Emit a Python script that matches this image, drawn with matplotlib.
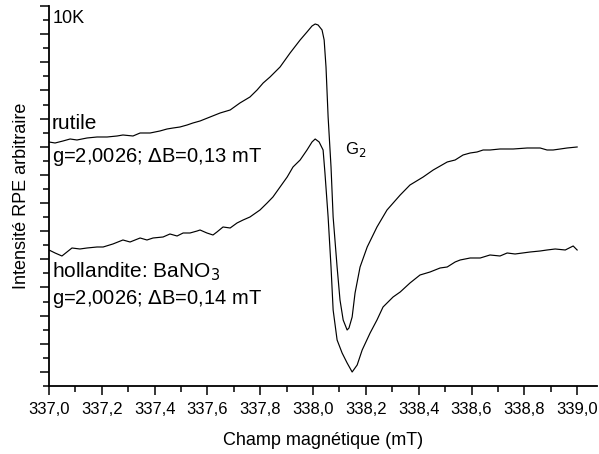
import numpy as np
import matplotlib
matplotlib.use("Agg")
import matplotlib.pyplot as plt
from matplotlib.ticker import MultipleLocator, FixedLocator, FuncFormatter

plt.rcParams['font.family'] = ['Liberation Sans', 'DejaVu Sans']

# champ magnetique (mT) et intensite RPE (unites arbitraires)
rutile_b = [337.000, 337.023, 337.053, 337.080, 337.106, 337.144, 337.182, 337.220,
            337.258, 337.280, 337.318, 337.345, 337.383, 337.420, 337.447, 337.470,
            337.496, 337.523, 337.545, 337.572, 337.610, 337.648, 337.686, 337.723,
            337.761, 337.788, 337.811, 337.837, 337.875, 337.913, 337.951, 337.977,
            337.996, 338.008, 338.019, 338.034, 338.042, 338.049, 338.057, 338.068,
            338.076, 338.091, 338.102, 338.114, 338.129, 338.136, 338.148, 338.159,
            338.178, 338.205, 338.242, 338.280, 338.330, 338.367, 338.417, 338.455,
            338.508, 338.538, 338.568, 338.595, 338.621, 338.644, 338.670, 338.708,
            338.758, 338.811, 338.860, 338.886, 338.909, 338.936, 338.962, 339.000]
rutile_i = [244, 243, 245, 247, 246, 248, 249, 249,
            250, 251, 250, 253, 253, 255, 257, 258,
            259, 261, 263, 265, 269, 273, 276, 283,
            289, 296, 303, 309, 319, 333, 346, 354,
            360, 362, 361, 356, 346, 319, 269, 219,
            169, 119, 86, 66, 56, 58, 69, 93,
            119, 139, 159, 176, 191, 201, 209, 216,
            224, 226, 231, 233, 234, 236, 236, 237,
            237, 238, 238, 236, 236, 237, 238, 239]

holl_b = [337.000, 337.023, 337.049, 337.068, 337.087, 337.117, 337.144, 337.182,
          337.205, 337.242, 337.280, 337.307, 337.345, 337.371, 337.394, 337.432,
          337.458, 337.485, 337.508, 337.534, 337.561, 337.572, 337.598, 337.621,
          337.636, 337.659, 337.686, 337.712, 337.735, 337.761, 337.799, 337.826,
          337.848, 337.875, 337.902, 337.924, 337.951, 337.977, 337.996, 338.008,
          338.023, 338.038, 338.045, 338.057, 338.068, 338.076, 338.091, 338.110,
          338.129, 338.148, 338.167, 338.186, 338.216, 338.242, 338.265, 338.303,
          338.330, 338.367, 338.405, 338.443, 338.481, 338.508, 338.538, 338.557,
          338.595, 338.633, 338.670, 338.708, 338.735, 338.765, 338.822, 338.860,
          338.886, 338.917, 338.955, 338.985, 339.000]
holl_i = [136, 133, 130, 134, 138, 137, 138, 139,
          139, 142, 146, 144, 148, 146, 148, 149,
          152, 150, 153, 153, 155, 156, 153, 151,
          154, 159, 158, 163, 166, 169, 176, 183,
          189, 199, 209, 219, 226, 236, 244, 247,
          244, 236, 213, 169, 119, 76, 46, 33,
          23, 14, 21, 36, 53, 66, 79, 89,
          94, 103, 111, 114, 118, 119, 124, 126,
          128, 128, 131, 130, 133, 132, 134, 135,
          136, 137, 136, 140, 136]

fig = plt.figure(figsize=(5.99, 4.54), dpi=100)
ax = fig.add_axes([0.0818, 0.1498, 0.9182 - 0.003, 0.837])

ax.plot(rutile_b, rutile_i, color='black', lw=0.85)
ax.plot(holl_b, holl_i, color='black', lw=0.85)

ax.set_xlim(337.0, 339.076)
ax.set_ylim(0, 380)

ax.spines['top'].set_visible(False)
ax.spines['right'].set_visible(False)
ax.spines['left'].set_linewidth(1.3)
ax.spines['bottom'].set_linewidth(1.3)

ax.xaxis.set_major_locator(MultipleLocator(0.2))
ax.xaxis.set_minor_locator(MultipleLocator(0.1))
ax.xaxis.set_major_formatter(FuncFormatter(lambda v, p: f"{v:.1f}".replace('.', ',')))

step = 380 / 27
ax.yaxis.set_major_locator(FixedLocator([step * k for k in range(1, 28, 2)]))
ax.yaxis.set_minor_locator(FixedLocator([step * k for k in range(0, 28, 2)]))
ax.set_yticklabels([])

ax.tick_params(which='major', length=6.5, width=1.1, labelsize=12, pad=5)
ax.tick_params(which='minor', length=4, width=1.1)

ax.set_xlabel("Champ magnétique (mT)", fontsize=13, labelpad=11)
ax.set_ylabel("Intensité RPE arbitraire", fontsize=13, labelpad=2)

ax.text(337.015, 367, "10K", fontsize=13, va='center', ha='left')
ax.text(337.011, 262, "rutile", fontsize=15, va='center', ha='left')
ax.text(337.011, 229, "g=2,0026; $\\Delta$B=0,13 mT", fontsize=14.5, va='center', ha='left')
ax.text(338.163, 236, "G$_2$", fontsize=12, va='center', ha='center')
ax.text(337.011, 114, "hollandite: BaNO$_3$", fontsize=15, va='center', ha='left')
ax.text(337.011, 87, "g=2,0026; $\\Delta$B=0,14 mT", fontsize=14.5, va='center', ha='left')

fig.savefig("out.png", dpi=100)
